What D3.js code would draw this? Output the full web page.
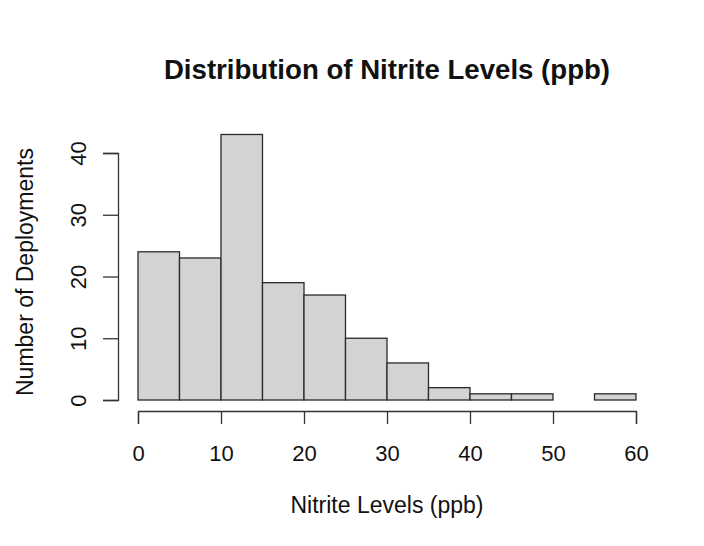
<!DOCTYPE html>
<html>
<head>
<meta charset="utf-8">
<script src="https://cdn.jsdelivr.net/npm/d3@7"></script>
<style>
  html, body { margin: 0; padding: 0; background: #fff; }
  svg { display: block; }
  text { font-family: "Liberation Sans", Arial, sans-serif; fill: #111; }
</style>
</head>
<body>
<svg id="chart" width="704" height="546"></svg>
<script>
// Data (bin width 5 ppb)
const binStarts = [0, 5, 10, 15, 20, 25, 30, 35, 40, 45, 50, 55];
const binEnds   = [5, 10, 15, 20, 25, 30, 35, 40, 45, 50, 55, 60];
const counts    = [24, 23, 43, 19, 17, 10, 6, 2, 1, 1, 0, 1];
const xTicks = [0, 10, 20, 30, 40, 50, 60];
const yTicks = [0, 10, 20, 30, 40];
const titleText = "Distribution of Nitrite Levels (ppb)";
const xLabelText = "Nitrite Levels (ppb)";
const yLabelText = "Number of Deployments";

const bins = binStarts.map((s, i) => ({ x0: s, x1: binEnds[i], n: counts[i] }));

const svg = d3.select("#chart");
const x = d3.scaleLinear().domain([0, 60]).range([138, 636]);
const y = d3.scaleLinear().domain([0, 40]).range([400, 153]);

const axisColor = "#333";

// Bars
svg.append("g").selectAll("rect").data(bins).join("rect")
  .attr("x", d => x(d.x0))
  .attr("y", d => y(d.n))
  .attr("width", d => x(d.x1) - x(d.x0))
  .attr("height", d => y(0) - y(d.n))
  .attr("fill", "#d3d3d3")
  .attr("stroke", "#2a2a2a")
  .attr("stroke-width", 1.3);

// X axis
const gx = svg.append("g").attr("transform", "translate(0,411)")
  .call(d3.axisBottom(x).tickValues(xTicks).tickSize(13).tickSizeOuter(13).tickPadding(21).tickFormat(d3.format("d")));
gx.selectAll("path, line").attr("stroke", axisColor).attr("stroke-width", 1.3);
gx.selectAll("text").attr("font-size", 22).attr("font-family", "Liberation Sans, Arial, sans-serif").attr("fill", "#111");

// Y axis
const gy = svg.append("g").attr("transform", "translate(118,0)")
  .call(d3.axisLeft(y).tickValues(yTicks).tickSize(15).tickSizeOuter(15).tickFormat(d3.format("d")));
gy.selectAll("path, line").attr("stroke", axisColor).attr("stroke-width", 1.3);
gy.selectAll("text")
  .attr("font-size", 22).attr("font-family", "Liberation Sans, Arial, sans-serif").attr("fill", "#111")
  .attr("x", 0).attr("dy", "0.35em").attr("y", 0)
  .attr("text-anchor", "middle")
  .attr("transform", "translate(-40,0) rotate(-90)");

// Title
svg.append("text")
  .attr("x", 387).attr("y", 79)
  .attr("text-anchor", "middle")
  .attr("font-size", 27.6).attr("font-weight", "bold")
  .text(titleText);

// X label
svg.append("text")
  .attr("x", 387).attr("y", 513)
  .attr("text-anchor", "middle")
  .attr("font-size", 23)
  .text(xLabelText);

// Y label
svg.append("text")
  .attr("transform", "translate(33,272) rotate(-90)")
  .attr("text-anchor", "middle")
  .attr("font-size", 23)
  .text(yLabelText);
</script>
</body>
</html>
